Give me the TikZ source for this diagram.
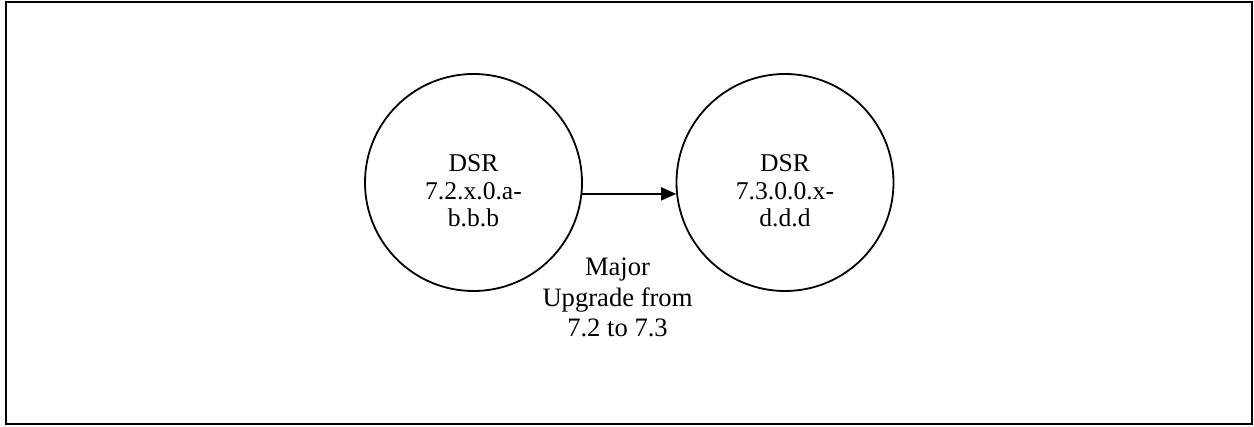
\documentclass[tikz,border=0pt]{standalone}
\usepackage{fontspec}
\setmainfont{Liberation Serif}
\usetikzlibrary{arrows.meta}
\tikzset{
	release/.style = {circle, draw, line width=0.9pt, minimum size=108.5pt, inner sep=0pt},
	reltext/.style = {align=center, anchor=base, font=\fontsize{12.8}{13.8}\selectfont},
	steptext/.style = {align=center, anchor=base, font=\fontsize{13.3}{15.3}\selectfont},
	frame/.style = {draw, line width=1pt}
}

\begin{document}
\begin{tikzpicture}[x=0.5pt, y=-0.5pt]
						\useasboundingbox (0,0) rectangle (1254,427);
						\draw[frame] (5.5,2.5) rectangle (1251.5,423.8);
						% ====== Releases ========
						\coordinate (A) at (473.5,182.5);
						\coordinate (B) at (785,182.5);
						\node[release] (oldrel) at (A) {};
						\node[release] (newrel) at (B) {};
						% base anchor sits on the last line
						\node[reltext] (oldtxt) at (473.5,227) {DSR\\7.2.x.0.a-\\b.b.b};
						\node[reltext] (newtxt) at (785,227) {DSR\\7.3.0.0.x-\\d.d.d};
						% ====== Upgrade ========
						\draw[-{Triangle[length=7.5pt, width=6.5pt]}, line width=0.75pt] (oldrel.-6) -- (newrel.186);
						\node[steptext] (upgrade) at (617.5,337) {Major\\Upgrade from\\7.2 to 7.3};
					\end{tikzpicture}
\end{document}
